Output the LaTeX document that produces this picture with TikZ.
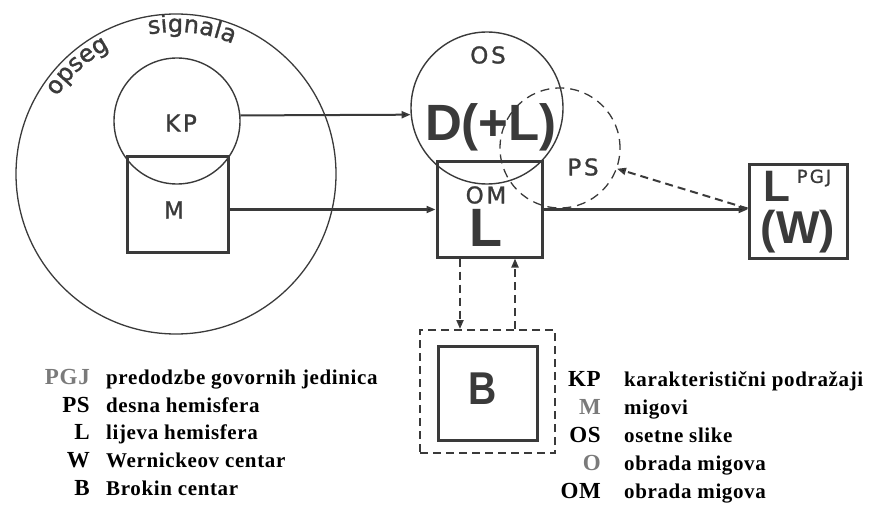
\documentclass[tikz,border=0pt]{standalone}
\usepackage{fontspec}
\setmainfont{Liberation Serif}
\newfontfamily\lblfont[LetterSpace=12,FakeBold=1.2]{DejaVu Sans}
\newfontfamily\arcfont[LetterSpace=14,FakeBold=1.2]{DejaVu Sans}
\newfontfamily\bigfont{Liberation Sans}
\newfontfamily\legabbr[LetterSpace=3]{Liberation Serif}
\newfontfamily\legdesc[LetterSpace=3]{Liberation Serif}
\usetikzlibrary{decorations.text,arrows.meta}
\definecolor{ink}{HTML}{3A3A3A}
\definecolor{greyink}{HTML}{7A7A7A}
\begin{document}
\begin{tikzpicture}[x=1pt,y=1pt,
  thincirc/.style={circle, draw=ink, line width=1.4pt, inner sep=0pt},
  boxthick/.style={rectangle, draw=ink, line width=3pt, inner sep=0pt},
  arr/.style={draw=ink, line width=2pt, -{Triangle[length=9pt,width=7pt]}},
  darr/.style={draw=ink, line width=2pt, dash pattern=on 8pt off 5pt, -{Triangle[length=9pt,width=7pt]}},
  lbl/.style={font=\lblfont\fontsize{23}{23}\selectfont, text=ink, inner sep=0pt},
  bigl/.style={font=\bigfont\bfseries\fontsize{#1}{#1}\selectfont, text=ink, inner sep=0pt},
  abbr/.style={anchor=base east, font=\legabbr\bfseries\fontsize{23}{23}\selectfont, inner sep=0pt},
  desc/.style={anchor=base west, font=\legdesc\bfseries\fontsize{21}{21}\selectfont, inner sep=0pt}
]
\useasboundingbox (0,0) rectangle (877,504);
% big circle with arc text
\node[thincirc, line width=1.3pt, minimum size=320pt] (sig) at (176,330) {};
\path[decorate, decoration={text along path, text color=ink,
  text={|\arcfont\fontsize{24}{24}\selectfont|opseg}}]
  (176,330) ++(147:142) arc[start angle=147, end angle=104, radius=142];
\path[decorate, decoration={text along path, text color=ink,
  text={|\arcfont\fontsize{24}{24}\selectfont|signala}}]
  (176,330) ++(101:142) arc[start angle=101, end angle=40, radius=142];
% KP and M
\node[thincirc, minimum size=126pt] (kp) at (177,383) {};
\node[lbl] (kpt) at (181,381) {KP};
\node[boxthick, minimum width=101pt, minimum height=95pt] (m) at (177.5,299.5) {};
\node[lbl] (mt) at (174,294) {M};
% OS circle
\node[thincirc, minimum size=152pt] (os) at (487,396) {};
\node[lbl] (ost) at (488,449) {OS};
\node[bigl=51] (dl) at (491,377) {D(+L)};
% PS dashed circle
\node[circle, draw=ink, line width=1.3pt, dash pattern=on 9pt off 6pt, inner sep=0pt, minimum size=120pt] (ps) at (560,356) {};
\node[lbl] (pst) at (583,337) {PS};
% OM box
\node[boxthick, minimum width=105pt, minimum height=95pt] (om) at (489.5,294.5) {};
\node[lbl] (omt) at (486,309) {OM};
\node[bigl=54] (oml) at (486,276) {L};
% L(W) box
\node[boxthick, minimum width=98pt, minimum height=93pt] (lw) at (798,292.5) {};
\node[bigl=44] (lwl) at (777,317.5) {L};
\node[font=\lblfont\fontsize{18}{18}\selectfont, text=ink, inner sep=0pt] (pgj) at (814,326) {PGJ};
\node[bigl=46] (lww) at (798,272) {(W)};
% B boxes
\node[rectangle, draw=ink, line width=2pt, dash pattern=on 8pt off 5pt, inner sep=0pt, minimum width=135pt, minimum height=123pt] (bo) at (487.5,112.5) {};
\node[boxthick, minimum width=99pt, minimum height=94pt] (b) at (487.5,111) {};
\node[bigl=46, xscale=0.85] (bt) at (483,115) {B};
% connectors
\coordinate (c1) at (460,0);
\coordinate (c2) at (515,0);
\draw[arr] (kp.5) -- (os.185);
\draw[arr] (om.west -| m.east) -- (om.west);
\draw[arr] (om.east) -- (om.east -| lw.west);
\draw[darr] ([yshift=3pt]lw.west) -- (ps.-20);
\draw[darr] (om.south -| c1) -- (bo.north -| c1);
\draw[darr] (bo.north -| c2) -- (om.south -| c2);
% legend left
\node[abbr, text=greyink] (a1) at (90,120) {PGJ};
\node[desc] (d1) at (106,120) {predodzbe govornih jedinica};
\node[abbr] (a2) at (90,92) {PS};
\node[desc] (d2) at (106,92) {desna hemisfera};
\node[abbr] (a3) at (90,65) {L};
\node[desc] (d3) at (106,65) {lijeva hemisfera};
\node[abbr] (a4) at (90,37) {W};
\node[desc] (d4) at (106,37) {Wernickeov centar};
\node[abbr] (a5) at (90,9) {B};
\node[desc] (d5) at (106,9) {Brokin centar};
% legend right
\node[abbr] (r1) at (601,118) {KP};
\node[desc] (e1) at (624,118) {karakteristični podražaji};
\node[abbr, text=greyink] (r2) at (601,90) {M};
\node[desc] (e2) at (624,90) {migovi};
\node[abbr] (r3) at (601,62) {OS};
\node[desc] (e3) at (624,62) {osetne slike};
\node[abbr, text=greyink] (r4) at (601,34) {O};
\node[desc] (e4) at (624,34) {obrada migova};
\node[abbr] (r5) at (601,6) {OM};
\node[desc] (e5) at (624,6) {obrada migova};
\end{tikzpicture}
\end{document}
